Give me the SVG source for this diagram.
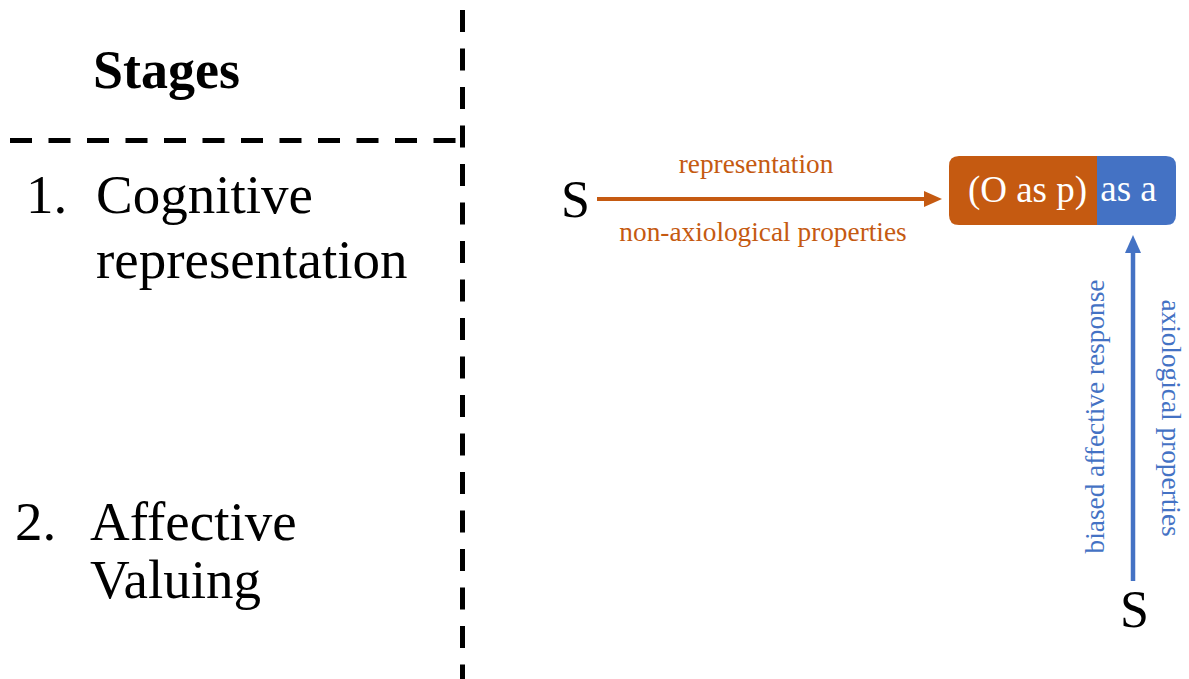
<svg xmlns="http://www.w3.org/2000/svg" width="1189" height="679" viewBox="0 0 1189 679">
<style>
.serif{font-family:"Liberation Serif","Times New Roman",serif;}
.big{font-size:55px;fill:#000;}
.lbl{font-size:27.3px;}
.org{fill:#C55A11;}
.blu{fill:#4472C4;}
.dash{stroke:#000;stroke-width:5;stroke-dasharray:22 16.5;fill:none;}
.box{font-size:37px;fill:#fff;}
</style>
<defs>
<marker id="arrO" viewBox="0 -8 18 16" refX="1" refY="0" markerWidth="18" markerHeight="16" markerUnits="userSpaceOnUse" orient="auto">
<path d="M0,-8 L18,0 L0,8 z" fill="#C55A11"/>
</marker>
<marker id="arrB" viewBox="0 -8 18 16" refX="1" refY="0" markerWidth="18" markerHeight="16" markerUnits="userSpaceOnUse" orient="auto">
<path d="M0,-8 L18,0 L0,8 z" fill="#4472C4"/>
</marker>
</defs>
<rect width="1189" height="679" fill="#fff"/>
<g id="dividers">
<line class="dash" x1="462.5" y1="10" x2="462.5" y2="679"/>
<line class="dash" x1="10" y1="140.5" x2="460" y2="140.5"/>
</g>
<g id="stages" class="serif">
<text x="93" y="88" font-size="54" font-weight="bold">Stages</text>
<text x="26" y="213" class="big">1.</text>
<text x="96" y="213" class="big">Cognitive</text>
<text x="96" y="278" class="big">representation</text>
<text x="15" y="540" class="big">2.</text>
<text x="90" y="540" class="big">Affective</text>
<text x="90" y="598" class="big">Valuing</text>
</g>
<g id="node-s1" class="serif">
<text x="561" y="217" font-size="52">S</text>
</g>
<g id="node-s2" class="serif">
<text x="1120" y="627" font-size="52">S</text>
</g>
<g id="node-box" class="serif">
<path d="M959,156 H1097 V225 H959 Q949,225 949,215 V166 Q949,156 959,156 z" fill="#C55A11"/>
<path d="M1097,156 H1166 Q1176,156 1176,166 V215 Q1176,225 1166,225 H1097 z" fill="#4472C4"/>
<text x="1027.5" y="202" class="box" text-anchor="middle">(O as p)</text>
<text x="1128.5" y="201" class="box" text-anchor="middle">as a</text>
</g>
<g id="connectors">
<line x1="597" y1="199" x2="925" y2="199" stroke="#C55A11" stroke-width="4" marker-end="url(#arrO)"/>
<line x1="1133" y1="581" x2="1133" y2="252" stroke="#4472C4" stroke-width="4.5" marker-end="url(#arrB)"/>
</g>
<g id="labels" class="serif">
<text x="756" y="173" class="lbl org" text-anchor="middle">representation</text>
<text x="763" y="241" class="lbl org" text-anchor="middle">non-axiological properties</text>
<text transform="translate(1104,416.5) rotate(-90)" class="lbl blu" text-anchor="middle">biased affective response</text>
<text transform="translate(1162,418) rotate(90)" class="lbl blu" text-anchor="middle">axiological properties</text>
</g>
</svg>
